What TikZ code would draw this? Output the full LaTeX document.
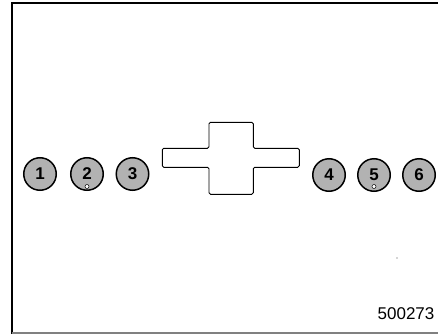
\documentclass[tikz,border=0pt]{standalone}
\usepackage{fontspec}
\setmainfont{Liberation Sans}
\begin{document}
\begin{tikzpicture}[x=1pt,y=-1pt,
  numcirc/.style={circle,draw=black,line width=1.5pt,fill=black!30,minimum size=32.5pt,inner sep=0pt,font=\fontsize{17}{17}\selectfont\bfseries},
  holedot/.style={circle,draw=black,line width=0.5pt,fill=white,minimum size=4pt,inner sep=0pt}]
\useasboundingbox (0,0) rectangle (438,334);
\fill[white] (0,0) rectangle (438,334);
% frame
\draw[line width=1.6pt,line cap=rect] (438,3) -- (12,3) -- (12,333);
\draw[line width=1.4pt,black!50] (12,333) -- (438,333);
% circles
\node[numcirc] (c1) at (40,174) {1};
\node[numcirc] (c2) at (87,174) {\raisebox{1pt}{2}};
\node[numcirc] (c3) at (132.5,174) {3};
\node[numcirc] (c4) at (329,175) {4};
\node[numcirc] (c5) at (374,175) {\raisebox{1pt}{5}};
\node[numcirc] (c6) at (419,175) {6};
\node[holedot] (d2) at (87,186.5) {};
\node[holedot] (d5) at (374,186.5) {};
% cross
\draw[line width=0.9pt,rounded corners=1.5pt]
  (162.3,148.3) -- (209,148.3) -- (209,122.3) -- (253.3,122.3) -- (253.3,148.3)
  -- (299.3,148.3) -- (299.3,167.3) -- (253.3,167.3) -- (253.3,194.3)
  -- (209,194.3) -- (209,167.3) -- (162.3,167.3) -- cycle;
% tiny dot
\fill[black!70] (397,258) circle (0.6pt);
% label
\node[font=\fontsize{17}{17}\selectfont,inner sep=0pt] (lbl) at (406,314) {500273};
\end{tikzpicture}
\end{document}
